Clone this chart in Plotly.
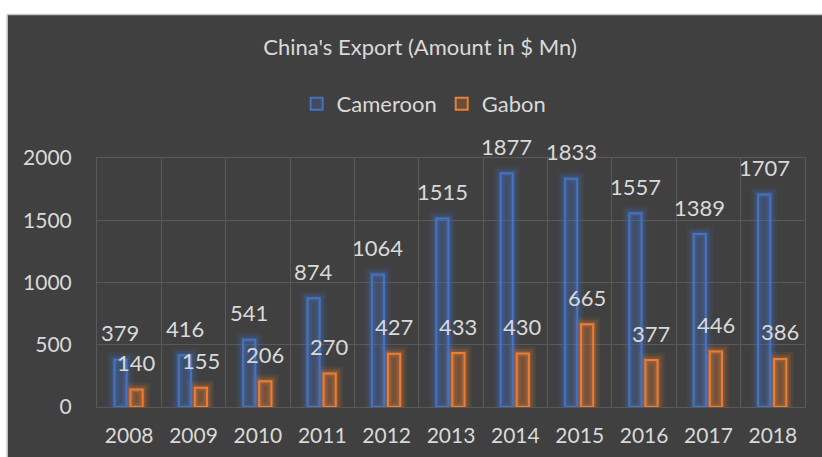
import plotly.graph_objects as go

# China's exports to Cameroon and Gabon, US$ million
years = ["2008", "2009", "2010", "2011", "2012", "2013", "2014", "2015", "2016", "2017", "2018"]
cameroon = [379, 416, 541, 874, 1064, 1515, 1877, 1833, 1557, 1389, 1707]
gabon = [140, 155, 206, 270, 427, 433, 430, 665, 377, 446, 386]
y_ticks = [0, 500, 1000, 1500, 2000]

BG = "#404040"
GRID = "#595959"
TEXT = "#d9d9d9"
FONT = "Lato"
FS = 22
FS_TICK = 21
BLUE = "#4472C4"
ORANGE = "#ED7D31"

W, H = 822, 457
L, R, T, B = 97, 17, 158, 50
BAR_W = 0.19
OFF_BLUE, OFF_ORANGE = -0.23, 0.02

fig = go.Figure()

series = [
    ("Cameroon", cameroon, BLUE, (68, 114, 196), OFF_BLUE),
    ("Gabon", gabon, ORANGE, (237, 125, 49), OFF_ORANGE),
]

# soft glow drawn as wide translucent outlines behind each bar
for name, vals, col, rgb, off in series:
    for lw, a in [(14, 0.10), (9, 0.14), (5, 0.2)]:
        fig.add_trace(go.Bar(
            x=years, y=vals, offset=off, width=BAR_W,
            marker=dict(color="rgba(0,0,0,0)",
                        line=dict(color=f"rgba({rgb[0]},{rgb[1]},{rgb[2]},{a})", width=lw)),
            showlegend=False, hoverinfo="skip",
        ))

for name, vals, col, rgb, off in series:
    fig.add_trace(go.Bar(
        x=years, y=vals, name=name, offset=off, width=BAR_W,
        marker=dict(color=f"rgba({rgb[0]},{rgb[1]},{rgb[2]},0.22)",
                    line=dict(color=col, width=2)),
    ))

# value labels above each bar (x given as category index)
cat_px = (W - L - R) / len(years)
annotations = []
for name, vals, col, rgb, off in series:
    xs = (off + BAR_W / 2) * cat_px
    for i, v in enumerate(vals):
        annotations.append(dict(
            x=i, y=v, xref="x", yref="y", text=str(v), showarrow=False,
            xshift=xs, yshift=27, yanchor="middle",
            font=dict(family=FONT, size=FS, color=TEXT),
        ))

pw = W - L - R
ph = H - T - B
def px_x(p):
    return (p - L) / pw
def px_y(p):
    return (H - B - p) / ph

shapes = [
    # white margin strip along the top and left edges
    dict(type="rect", xref="paper", yref="paper", x0=px_x(0), x1=px_x(W), y0=px_y(0), y1=px_y(14.5),
         fillcolor="white", line_width=0, layer="above"),
    dict(type="rect", xref="paper", yref="paper", x0=px_x(0), x1=px_x(7.5), y0=px_y(0), y1=px_y(H),
         fillcolor="white", line_width=0, layer="above"),
    dict(type="line", xref="paper", yref="paper", x0=px_x(7), x1=px_x(W), y0=px_y(14.5), y1=px_y(14.5),
         line=dict(color="#c8c8c8", width=1.5), layer="above"),
    dict(type="line", xref="paper", yref="paper", x0=px_x(7), x1=px_x(7), y0=px_y(14.5), y1=px_y(H),
         line=dict(color="#c8c8c8", width=1.5), layer="above"),
]

fig.update_layout(
    width=W, height=H,
    barmode="overlay",
    paper_bgcolor=BG, plot_bgcolor=BG,
    margin=dict(l=L, r=R, t=T, b=B, autoexpand=False),
    font=dict(family=FONT, size=FS, color=TEXT),
    title=dict(text="China's Export (Amount in $ Mn)", x=0.511, xanchor="center",
               yref="container", y=1 - 47 / H, yanchor="middle",
               font=dict(family=FONT, size=FS, color=TEXT)),
    legend=dict(orientation="h", x=0.462, xanchor="center", yref="container",
                y=1 - 104 / H, yanchor="middle", bgcolor="rgba(0,0,0,0)",
                font=dict(family=FONT, size=FS, color=TEXT), itemwidth=30,
                traceorder="normal"),
    xaxis=dict(type="category", tickson="boundaries", showgrid=True, gridcolor=GRID,
               gridwidth=1, ticks="", showline=True, linecolor=GRID, mirror=True,
               tickfont=dict(family=FONT, size=FS_TICK, color=TEXT), ticklabelstandoff=10,
               range=[-0.5, 10.5], fixedrange=True, automargin=False),
    yaxis=dict(range=[0, 2000], tickvals=y_ticks, showgrid=True, gridcolor=GRID,
               gridwidth=1, zeroline=False, ticks="", showline=True, linecolor=GRID,
               mirror=True, tickfont=dict(family=FONT, size=FS_TICK, color=TEXT),
               ticklabelstandoff=20, fixedrange=True, automargin=False),
    shapes=shapes,
    annotations=annotations,
    showlegend=True,
)

fig.write_html("out.html")
